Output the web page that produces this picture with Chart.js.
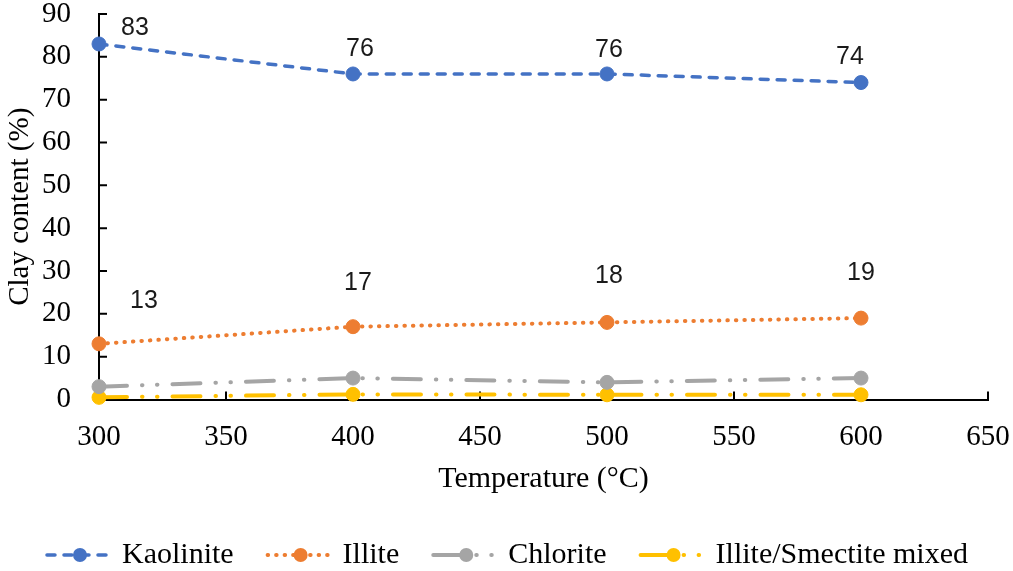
<!DOCTYPE html>
<html>
<head>
<meta charset="utf-8">
<script src="https://cdn.jsdelivr.net/npm/chart.js@4.4.1/dist/chart.umd.min.js"></script>
<style>
  html, body { margin: 0; padding: 0; background: #fff; }
  #wrap { width: 1013px; height: 571px; }
</style>
</head>
<body>
<div id="wrap"><canvas id="myChart" width="1013" height="571"></canvas></div>
<script>
let temps = [300, 400, 500, 600];
let kaolinite = [83, 76, 76, 74];
let illite = [13, 17, 18, 19];
let chlorite = [3, 5, 4, 5];
let mixedLayer = [0.5, 1.2, 1.1, 1.1];
let seriesNames = ["Kaolinite", "Illite", "Chlorite", "Illite/Smectite mixed"];
let xTicks = [300, 350, 400, 450, 500, 550, 600, 650];
let yTicks = [0, 10, 20, 30, 40, 50, 60, 70, 80, 90];

const serif = "'Liberation Serif', 'Times New Roman', serif";

function toPoints(values) {
  return temps.map((t, i) => ({ x: t, y: values[i] }));
}

function makeSet(name, values, color, dash, width) {
  return {
    label: name,
    data: toPoints(values),
    borderColor: color,
    backgroundColor: color,
    borderWidth: width,
    borderDash: dash,
    borderCapStyle: 'round',
    pointRadius: 7,
    pointHoverRadius: 7,
    pointBackgroundColor: color,
    pointBorderColor: color,
    pointBorderWidth: 1,
    clip: false,
    tension: 0
  };
}

// inward tick marks on both axes
const innerTicks = {
  id: 'innerTicks',
  beforeDatasetsDraw(chart) {
    const ctx = chart.ctx;
    const xs = chart.scales.x, ys = chart.scales.y;
    const len = 8;
    ctx.save();
    ctx.strokeStyle = '#000';
    ctx.lineWidth = 2;
    ctx.beginPath();
    xTicks.forEach(v => {
      const px = xs.getPixelForValue(v);
      ctx.moveTo(px, ys.bottom);
      ctx.lineTo(px, ys.bottom - len);
    });
    yTicks.forEach(v => {
      const py = ys.getPixelForValue(v);
      ctx.moveTo(xs.left, py);
      ctx.lineTo(xs.left + len, py);
    });
    ctx.stroke();
    ctx.restore();
  }
};

// value labels next to points
const pointLabels = {
  id: 'pointLabels',
  afterDatasetsDraw(chart, args, opts) {
    const ctx = chart.ctx;
    ctx.save();
    ctx.font = opts.font;
    ctx.fillStyle = opts.color;
    ctx.textAlign = 'center';
    ctx.textBaseline = 'middle';
    opts.offsets.forEach((offs, di) => {
      if (!offs) return;
      const meta = chart.getDatasetMeta(di);
      meta.data.forEach((pt, i) => {
        const o = offs[i];
        ctx.fillText(String(chart.data.datasets[di].data[i].y), pt.x + o[0], pt.y + o[1]);
      });
    });
    ctx.restore();
  }
};

// legend with line + marker samples
const lineLegend = {
  id: 'lineLegend',
  afterDraw(chart, args, opts) {
    const ctx = chart.ctx;
    const sets = chart.data.datasets;
    ctx.save();
    ctx.font = opts.font;
    const widths = sets.map(d => ctx.measureText(d.label).width);
    let total = 0;
    widths.forEach(w => { total += opts.sample + opts.gap + w; });
    total += opts.spacing * (sets.length - 1);
    let x = chart.width / 2 - total / 2;
    const y = opts.y;
    sets.forEach((d, i) => {
      ctx.strokeStyle = d.borderColor;
      ctx.lineWidth = d.borderWidth;
      ctx.lineCap = 'round';
      ctx.setLineDash(d.borderDash || []);
      ctx.beginPath();
      ctx.moveTo(x + 2, y);
      ctx.lineTo(x + opts.sample - 2, y);
      ctx.stroke();
      ctx.setLineDash([]);
      ctx.fillStyle = d.borderColor;
      ctx.beginPath();
      ctx.arc(x + opts.sample / 2, y, 7, 0, Math.PI * 2);
      ctx.fill();
      ctx.fillStyle = '#000';
      ctx.textAlign = 'left';
      ctx.textBaseline = 'middle';
      ctx.fillText(d.label, x + opts.sample + opts.gap, y);
      x += opts.sample + opts.gap + widths[i] + opts.spacing;
    });
    ctx.restore();
  }
};

let ctx = document.getElementById('myChart').getContext('2d');

const myChart = new Chart(ctx, {
  type: 'line',
  data: {
    datasets: [
      makeSet(seriesNames[0], kaolinite, '#4472C4', [8, 9], 3.5),
      makeSet(seriesNames[1], illite, '#ED7D31', [0.5, 8], 4),
      makeSet(seriesNames[2], chlorite, '#A5A5A5', [28, 15, 0.5, 14.5, 0.5, 15], 4),
      makeSet(seriesNames[3], mixedLayer, '#FFC000', [28, 15, 0.5, 14.5, 0.5, 15], 4)
    ]
  },
  options: {
    responsive: false,
    animation: false,
    layout: { padding: { left: 0, right: 25, top: 14, bottom: 73 } },
    plugins: {
      legend: { display: false },
      tooltip: { enabled: false },
      pointLabels: {
        font: "25px 'Liberation Sans', Arial, sans-serif",
        color: '#1a1a1a',
        offsets: [
          [[36, -16], [7, -25], [2, -24], [-11, -25]],
          [[45, -43], [5, -44], [2, -46], [0, -45]],
          null,
          null
        ]
      },
      lineLegend: {
        font: "30px " + serif,
        y: 555,
        sample: 70,
        gap: 7,
        spacing: 32
      }
    },
    scales: {
      x: {
        type: 'linear',
        min: 300,
        max: 650,
        afterBuildTicks: (s) => { s.ticks = xTicks.map(v => ({ value: v })); },
        afterFit: (s) => { s.height = 98.5; s.paddingLeft = 0; s.paddingRight = 0; },
        grid: { display: false, drawTicks: false },
        border: { display: true, color: '#000', width: 2 },
        ticks: { color: '#000', padding: 20, font: { family: serif, size: 29 } },
        title: {
          display: true,
          text: 'Temperature (°C)',
          color: '#000',
          padding: { top: 0, bottom: 1 },
          font: { family: serif, size: 30 }
        }
      },
      y: {
        min: 0,
        max: 90,
        afterBuildTicks: (s) => { s.ticks = yTicks.map(v => ({ value: v })); },
        afterFit: (s) => { s.width = 99; s.paddingTop = 0; s.paddingBottom = 0; },
        grid: { display: false, drawTicks: false },
        border: { display: true, color: '#000', width: 2 },
        ticks: { color: '#000', padding: 28, font: { family: serif, size: 29 } },
        title: {
          display: true,
          text: 'Clay content (%)',
          color: '#000',
          padding: { top: 3, bottom: 0 },
          font: { family: serif, size: 29 }
        }
      }
    }
  },
  plugins: [innerTicks, pointLabels, lineLegend]
});
</script>
</body>
</html>
